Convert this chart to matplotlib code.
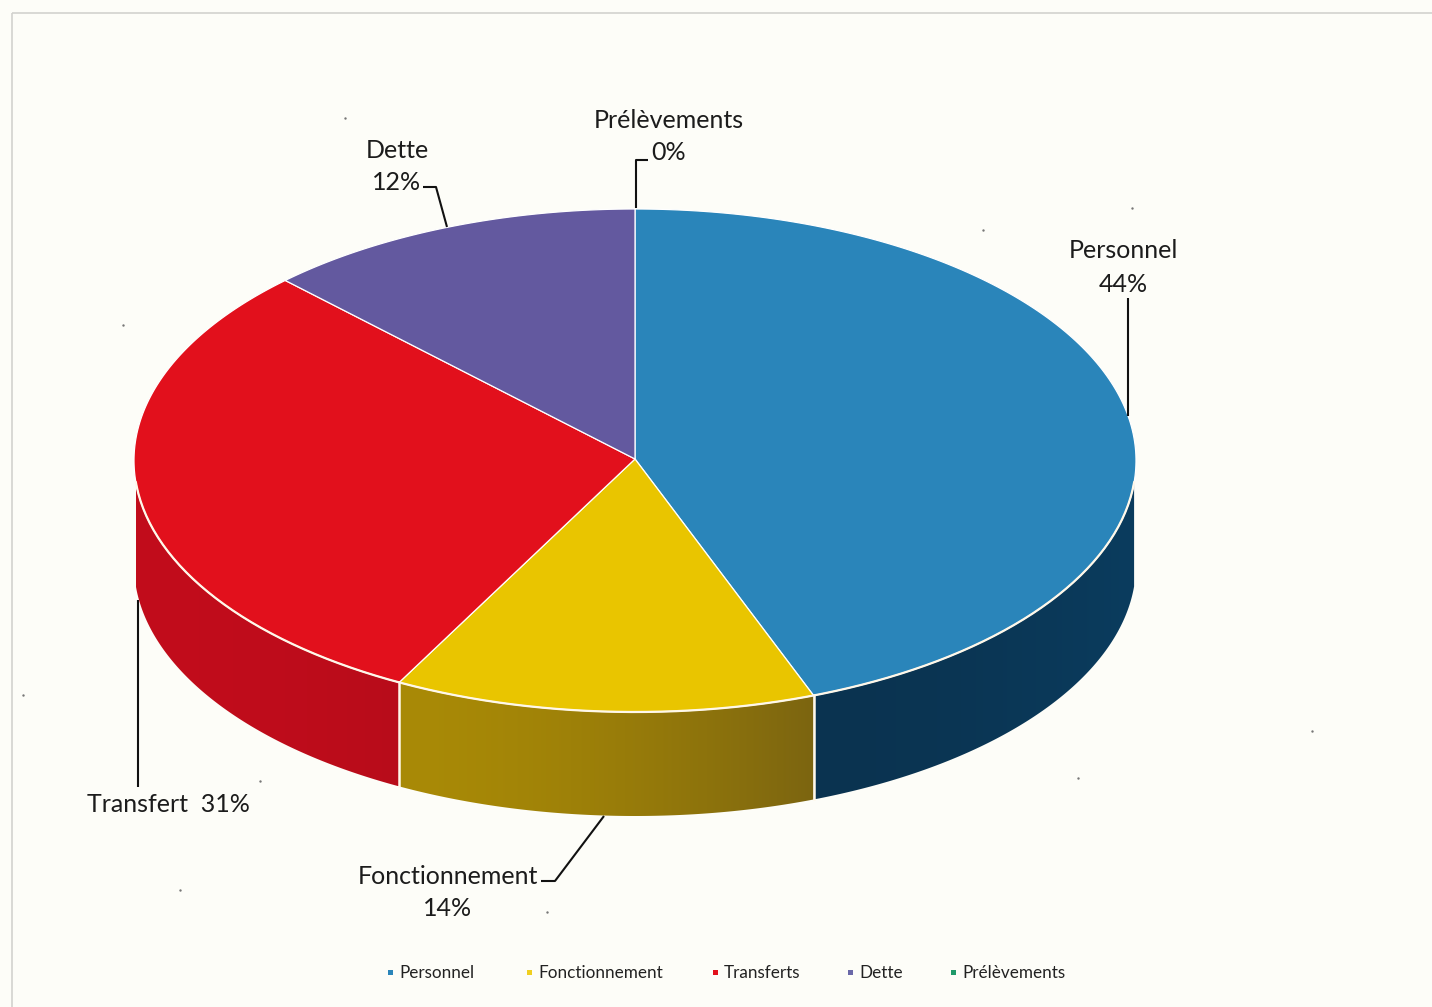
"""Personnel / Fonctionnement / Transferts / Dette / Prelevements 3D pie, scanned look."""
import numpy as np
import matplotlib
matplotlib.use("Agg")
import matplotlib.pyplot as plt
from matplotlib.patches import Polygon, Rectangle

plt.rcParams["font.family"] = ["Lato", "DejaVu Sans"]

# shares as drawn on the pie (the printed labels are rounded differently)
categories = ["Personnel", "Fonctionnement", "Transferts", "Dette", "Prélèvements"]
shares = [44.2, 13.6, 29.9, 12.3, 0.0]
legend_names = ["Personnel", "Fonctionnement", "Transferts", "Dette", "Prélèvements"]

top_colors = ["#2a85ba", "#e9c500", "#e2101c", "#63599f", "#1f9a6a"]
side_left = ["#0a3350", "#a98a06", "#c20d1c", "#4a4278", "#157a50"]
side_right = ["#0b3c5e", "#7c6510", "#b80c1a", "#4a4278", "#157a50"]
legend_x = [390, 529, 715, 850, 953]
legend_colors = ["#2a85ba", "#f0cf20", "#e2101c", "#6a68a8", "#1f9a6a"]

BG = "#fdfdf8"
CX, CY, RX, RY, DEPTH = 635, 460.5, 501, 251.5, 104
WALL_START = 95  # wall shows a little below the widest point of the ellipse

fig = plt.figure(figsize=(14.32, 10.07), dpi=100, facecolor=BG)
ax = fig.add_axes([0, 0, 1, 1])
ax.set_xlim(0, 1432)
ax.set_ylim(1007, 0)
ax.axis("off")


def rim(a0, a1, dy=0.0, n=200):
    # angle in degrees clockwise from the top of the ellipse
    t = np.radians(np.linspace(a0, a1, n))
    return np.column_stack([CX + RX * np.sin(t), CY - RY * np.cos(t) + dy])


# scan frame
ax.add_patch(Rectangle((12, 13), 1500, 1100, fill=False, ec="#d2d2ce", lw=1.2, zorder=1))

edges = np.cumsum([0.0] + shares) * 360.0 / sum(shares)

# ── outer wall, only the front half shows ─────────────────────────────────────
for i, (a0, a1) in enumerate(zip(edges[:-1], edges[1:])):
    lo, hi = max(a0, WALL_START), min(a1, 360 - WALL_START)
    if hi <= lo:
        continue
    poly = np.vstack([rim(lo, hi), rim(lo, hi, DEPTH)[::-1]])
    left = matplotlib.colors.to_rgb(side_left[i])
    right = matplotlib.colors.to_rgb(side_right[i])
    ramp = (np.linspace(0, 1, 128) ** 1.6)[None, :, None]
    grad = np.array(left)[None, None, :] * (1 - ramp) + np.array(right)[None, None, :] * ramp
    im = ax.imshow(grad, extent=(poly[:, 0].min(), poly[:, 0].max(), poly[:, 1].max(), poly[:, 1].min()),
                   aspect="auto", zorder=2, interpolation="bilinear")
    clip = Polygon(poly, closed=True, transform=ax.transData, fc="none", ec="none")
    ax.add_patch(clip)
    im.set_clip_path(clip)

ax.set_xlim(0, 1432)
ax.set_ylim(1007, 0)

# ── top face ──────────────────────────────────────────────────────────────────
for i, (a0, a1) in enumerate(zip(edges[:-1], edges[1:])):
    if a1 <= a0:
        continue
    pts = np.vstack([[CX, CY - 1.5], rim(a0, a1)])
    ax.add_patch(Polygon(pts, closed=True, fc=top_colors[i], ec="white", lw=0.9, zorder=3))

# white rim and wall seams
front = rim(WALL_START, 360 - WALL_START)
ax.plot(front[:, 0], front[:, 1], color="#fff8ea", lw=1.6, zorder=4)
for a in edges:
    if 90 < a < 270:
        p = rim(a, a, n=1)[0]
        ax.plot([p[0], p[0]], [p[1], p[1] + DEPTH], color="#fff8ea", lw=1.8, zorder=4)

# ── leader lines ──────────────────────────────────────────────────────────────
leaders = [
    [(1128, 298), (1128, 416)],
    [(636, 208), (636, 160), (648, 160)],
    [(423, 187), (436, 187), (447, 227)],
    [(138, 600), (138, 787)],
    [(541, 881), (555, 881), (604, 816)],
]
for pts in leaders:
    xs, ys = zip(*pts)
    ax.plot(xs, ys, color="#111111", lw=1.5, zorder=5, solid_capstyle="butt")

# ── data labels ───────────────────────────────────────────────────────────────
labels = [
    (1123, 251, "Personnel"), (1123, 284, "44%"),
    (669, 120, "Prélèvements"), (669, 153, "0%"),
    (397, 150, "Dette"), (397, 182, "12%"),
    (168, 805, "Transfert  31%"),
    (448, 876, "Fonctionnement"), (448, 908, "14%"),
]
for x, y, s in labels:
    ax.text(x, y, s, fontsize=18, color="#1c1c1c", ha="center", va="center", zorder=6)

# ── legend ────────────────────────────────────────────────────────────────────
for x, c, name in zip(legend_x, legend_colors, legend_names):
    ax.add_patch(Rectangle((x - 2, 970), 5, 5, fc=c, ec="none", zorder=6))
    ax.text(x + 9, 973, name, fontsize=12.3, color="#222222", ha="left", va="center", zorder=6)

# a few scan specks
specks_x = [345, 1132, 1312, 260, 547, 180, 983, 1078, 123, 23]
specks_y = [118, 208, 731, 781, 912, 890, 230, 778, 325, 695]
ax.scatter(specks_x, specks_y, s=3, color="#777777", linewidths=0, zorder=1)

fig.savefig("out.png", dpi=100, facecolor=BG)
